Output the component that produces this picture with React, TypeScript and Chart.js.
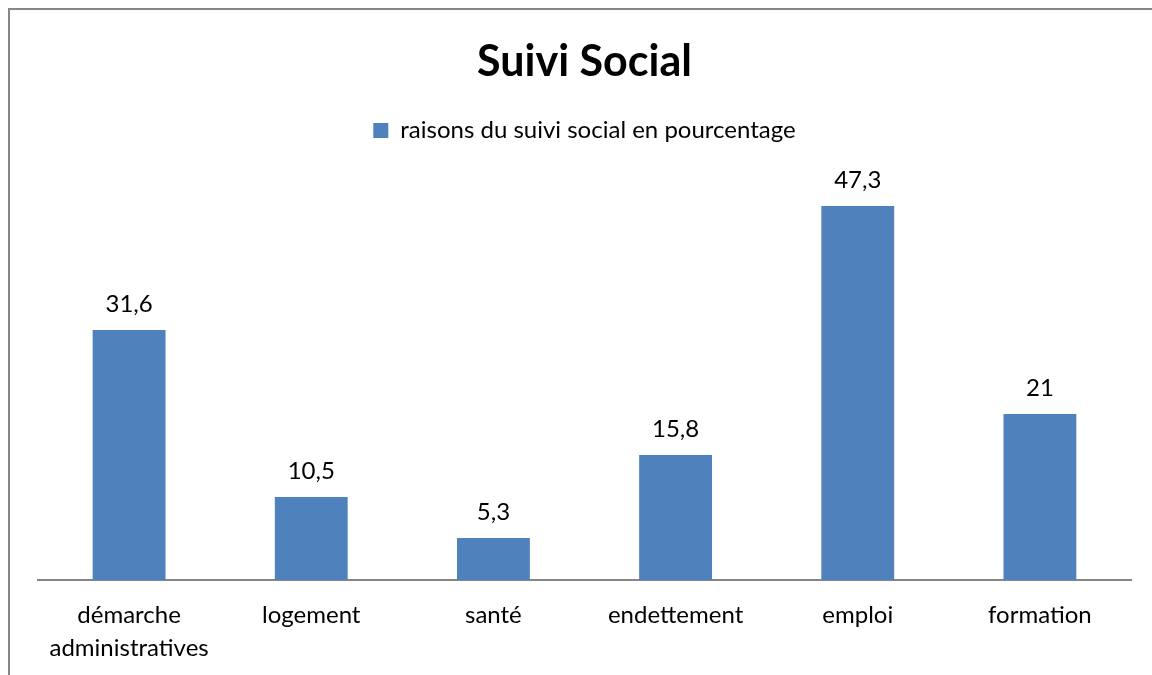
import React, { useEffect, useRef } from "react";
import { Chart, registerables } from "chart.js";

Chart.register(...registerables);

const categories: (string | string[])[] = [
  ["démarche", "administratives"],
  "logement",
  "santé",
  "endettement",
  "emploi",
  "formation",
];
const values: number[] = [31.6, 10.5, 5.3, 15.8, 47.3, 21];
const seriesLabel = "raisons du suivi social en pourcentage";
const chartTitle = "Suivi Social";

const FONT = "Lato, 'Open Sans', sans-serif";

const dataLabelsPlugin = {
  id: "dataLabels",
  afterDatasetsDraw(chart: any) {
    const ctx = chart.ctx;
    const meta = chart.getDatasetMeta(0);
    ctx.save();
    ctx.font = `24px ${FONT}`;
    ctx.fillStyle = "#000000";
    ctx.textAlign = "center";
    ctx.textBaseline = "alphabetic";
    meta.data.forEach((bar: any, i: number) => {
      const v = chart.data.datasets[0].data[i];
      const txt = String(v).replace(".", ",");
      ctx.fillText(txt, bar.x, bar.y - 18);
    });
    ctx.restore();
  },
};

export default function App() {
  const ref = useRef<HTMLCanvasElement | null>(null);
  useEffect(() => {
    if (!ref.current) return;
    const chart = new Chart(ref.current, {
      type: "bar",
      data: {
        labels: categories,
        datasets: [
          {
            label: seriesLabel,
            data: values,
            backgroundColor: "#4F81BD",
            borderWidth: 0,
            barPercentage: 0.4,
            categoryPercentage: 1.0,
          },
        ],
      },
      options: {
        animation: false,
        responsive: false,
        layout: { padding: { top: 0, left: 28, right: 29, bottom: 0 } },
        plugins: {
          title: {
            display: true,
            text: chartTitle,
            color: "#000000",
            font: { family: FONT, size: 43, weight: "bold", lineHeight: 1.2 },
            padding: { top: 26, bottom: 21 },
          },
          subtitle: {
            display: true,
            text: "",
            position: "top",
            weight: 500,
            font: { size: 10, lineHeight: "32px" },
            padding: 0,
          },
          legend: {
            display: true,
            position: "top",
            labels: {
              color: "#000000",
              font: { family: FONT, size: 24 },
              boxWidth: 15,
              boxHeight: 15,
              padding: 10,
            },
          },
          tooltip: { enabled: false },
        },
        scales: {
          x: {
            grid: { display: false, drawTicks: false },
            border: { display: true, color: "#868686", width: 2 },
            ticks: {
              color: "#000000",
              font: { family: FONT, size: 24, lineHeight: 1.4 },
              padding: 18,
              maxRotation: 0,
              autoSkip: false,
            },
            afterFit: (scale: any) => {
              scale.height = 95;
            },
          },
          y: {
            display: false,
            min: 0,
            max: 50,
          },
        },
      },
      plugins: [dataLabelsPlugin],
    });
    return () => chart.destroy();
  }, []);

  return (
    <div
      style={{
        position: "fixed",
        left: 8,
        top: 8,
        width: 1160,
        height: 700,
        borderTop: "2px solid #868686",
        borderLeft: "2px solid #868686",
        background: "#ffffff",
      }}
    >
      <canvas ref={ref} width={1150} height={665} style={{ display: "block" }} />
    </div>
  );
}
